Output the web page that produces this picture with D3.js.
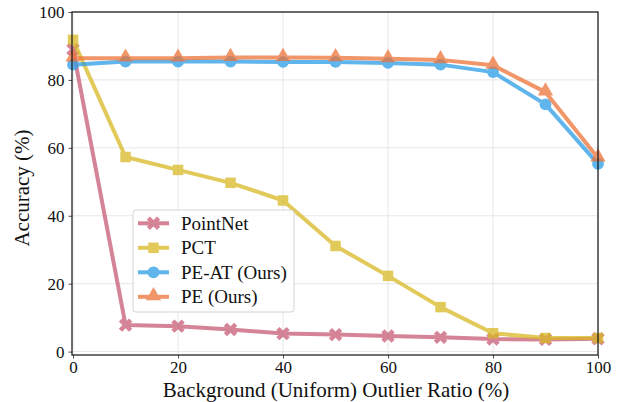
<!DOCTYPE html>
<html>
<head>
<meta charset="utf-8">
<script src="https://cdn.jsdelivr.net/npm/d3@7"></script>
<style>
  html, body { margin: 0; padding: 0; background: #fff; }
  svg { display: block; font-family: "Liberation Serif", "DejaVu Serif", serif; }
</style>
</head>
<body>
<svg id="chart" width="619" height="402"></svg>
<script>
// Outlier ratios (%) on the x axis
const ratios = [0, 10, 20, 30, 40, 50, 60, 70, 80, 90, 100];

// Accuracy (%) of each method per outlier ratio
const pointnet = [89.0, 7.8, 7.5, 6.5, 5.3, 5.0, 4.6, 4.2, 3.7, 3.6, 3.8];
const pct      = [91.8, 57.3, 53.5, 49.7, 44.5, 31.1, 22.3, 13.1, 5.4, 4.0, 4.0];
const peAt     = [84.5, 85.4, 85.4, 85.4, 85.3, 85.3, 85.0, 84.5, 82.3, 72.8, 55.3];
const pe       = [86.4, 86.4, 86.4, 86.6, 86.6, 86.5, 86.2, 85.9, 84.3, 76.4, 57.0];

const seriesNames = ["PointNet", "PCT", "PE-AT (Ours)", "PE (Ours)"];
const xTicks = [0, 20, 40, 60, 80, 100];
const yTicks = [0, 20, 40, 60, 80, 100];

const series = [
  { name: seriesNames[0], values: pointnet, color: "#c85a74", marker: "cross" },
  { name: seriesNames[1], values: pct,      color: "#d9b924", marker: "square" },
  { name: seriesNames[2], values: peAt,     color: "#2a9de6", marker: "circle" },
  { name: seriesNames[3], values: pe,       color: "#ec7338", marker: "triangle" }
];

const svg = d3.select("#chart");
const margin = { left: 72, right: 21, top: 12, bottom: 47 };
const W = 619, H = 402;

const x = d3.scaleLinear().domain([-0.2, 100]).range([margin.left, W - margin.right]);
const y = d3.scaleLinear().domain([-1, 100]).range([H - margin.bottom, margin.top]);

// grid
const grid = svg.append("g");
grid.selectAll("line.gx").data(xTicks).join("line")
  .attr("x1", d => x(d)).attr("x2", d => x(d))
  .attr("y1", y.range()[0]).attr("y2", y.range()[1])
  .attr("stroke", "#e6e6e6").attr("stroke-width", 1);
grid.selectAll("line.gy").data(yTicks).join("line")
  .attr("y1", d => y(d)).attr("y2", d => y(d))
  .attr("x1", x.range()[0]).attr("x2", x.range()[1])
  .attr("stroke", "#e6e6e6").attr("stroke-width", 1);

// marker shapes
const symbolFor = {
  cross: d3.symbol().type(d3.symbolX).size(70),
  square: d3.symbol().type(d3.symbolSquare).size(110),
  circle: d3.symbol().type(d3.symbolCircle).size(110),
  triangle: d3.symbol().type(d3.symbolTriangle).size(100)
};

function drawMarker(g, kind, color, cx, cy) {
  if (kind === "cross") {
    g.append("path").attr("d", symbolFor.cross())
      .attr("transform", `translate(${cx},${cy})`)
      .attr("fill", "none").attr("stroke", color).attr("stroke-width", 4.5)
      .attr("stroke-linecap", "butt");
  } else {
    g.append("path").attr("d", symbolFor[kind]())
      .attr("transform", `translate(${cx},${cy})` + (kind === "triangle" ? " translate(0,-1)" : ""))
      .attr("fill", color);
  }
}

const line = d3.line().x((d, i) => x(ratios[i])).y(d => y(d));

const plot = svg.append("g");
series.forEach(s => {
  const g = plot.append("g").attr("opacity", 0.75);
  g.append("path").datum(s.values).attr("d", line)
    .attr("fill", "none").attr("stroke", s.color).attr("stroke-width", 4)
    .attr("stroke-linejoin", "round");
  s.values.forEach((v, i) => drawMarker(g, s.marker, s.color, x(ratios[i]), y(v)));
});

// axes
const xAxis = d3.axisBottom(x).tickValues(xTicks).tickSize(3.5).tickPadding(2).tickFormat(d3.format("d"));
const yAxis = d3.axisLeft(y).tickValues(yTicks).tickSize(3.5).tickPadding(4).tickFormat(d3.format("d"));

const gx = svg.append("g").attr("transform", `translate(0,${y.range()[0]})`).call(xAxis);
const gy = svg.append("g").attr("transform", `translate(${x.range()[0]},0)`).call(yAxis);
[gx, gy].forEach(g => {
  g.select(".domain").remove();
  g.selectAll(".tick line").attr("stroke", "#222").attr("stroke-width", 0.8);
  g.selectAll(".tick text").attr("fill", "#111").style("font-size", "17px")
    .style("font-family", "'Liberation Serif', serif");
});

// frame
svg.append("rect")
  .attr("x", x.range()[0]).attr("y", y.range()[1])
  .attr("width", x.range()[1] - x.range()[0]).attr("height", y.range()[0] - y.range()[1])
  .attr("fill", "none").attr("stroke", "#111").attr("stroke-width", 1.2);

// axis titles
svg.append("text")
  .attr("x", 336).attr("y", 397)
  .attr("text-anchor", "middle").style("font-size", "21px").attr("fill", "#111")
  .text("Background (Uniform) Outlier Ratio (%)");
svg.append("text")
  .attr("transform", `translate(29,188) rotate(-90)`)
  .attr("text-anchor", "middle").style("font-size", "21px").attr("fill", "#111")
  .text("Accuracy (%)");

// legend
const lg = svg.append("g").attr("transform", "translate(133,210)");
lg.append("rect").attr("x", 0).attr("y", 0).attr("width", 161).attr("height", 102)
  .attr("rx", 3).attr("fill", "#fff").attr("fill-opacity", 0.85)
  .attr("stroke", "#d4d4d4").attr("stroke-width", 1);
series.forEach((s, i) => {
  const cy = 13.3 + i * 24.5;
  const g = lg.append("g").attr("opacity", 0.75);
  g.append("line").attr("x1", 5).attr("x2", 36).attr("y1", cy).attr("y2", cy)
    .attr("stroke", s.color).attr("stroke-width", 4);
  drawMarker(g, s.marker, s.color, 20.5, cy);
  lg.append("text").attr("x", 48).attr("y", cy + 6.5)
    .style("font-size", "19px").attr("fill", "#111").text(s.name);
});
</script>
</body>
</html>
